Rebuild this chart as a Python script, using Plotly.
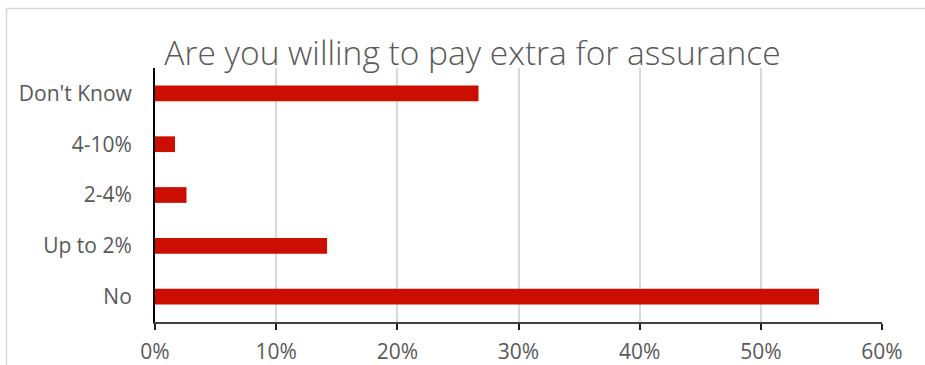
import plotly.graph_objects as go

categories = ["No", "Up to 2%", "2-4%", "4-10%", "Don't Know"]
values = [0.548, 0.142, 0.026, 0.0165, 0.267]
x_ticks = [0, 0.1, 0.2, 0.3, 0.4, 0.5, 0.6]
title_text = "Are you willing to pay extra for assurance"

W, H = 925, 365
L, R, T, B = 155, 43, 68, 43
pw, ph = W - L - R, H - T - B

def px_x(p):
    return (p - L) / pw

def px_y(p):
    return (H - B - p) / ph

fig = go.Figure(go.Bar(
    x=values, y=categories, orientation="h",
    marker=dict(color="#CC0E00", line=dict(width=0)),
    width=0.31,
))

fig.update_layout(
    width=W, height=H,
    margin=dict(l=L, r=R, t=T, b=B, pad=0, autoexpand=False),
    paper_bgcolor="white", plot_bgcolor="white",
    font=dict(family="Open Sans", color="#595959", size=21),
    showlegend=False,
    title=dict(text=title_text, x=472.5 / W, xref="container", xanchor="center",
               y=1 - 53 / H, yref="container", yanchor="middle",
               font=dict(family="Open Sans", size=33.5, color="#595959", weight=300)),
    xaxis=dict(range=[0, 0.6], tickvals=x_ticks, tickformat=".0%",
               showgrid=True, gridcolor="#D9D9D9", gridwidth=2,
               showline=True, linecolor="#404040", linewidth=2,
               ticks="outside", ticklen=6, tickwidth=2, tickcolor="#202020",
               zeroline=False, fixedrange=True, ticklabelstandoff=4,
               automargin=False),
    yaxis=dict(categoryorder="array", categoryarray=categories,
               showgrid=False, showline=True, linecolor="black", linewidth=2,
               ticks="", zeroline=False, ticklabelstandoff=17,
               automargin=False),
    shapes=[dict(type="rect", xref="paper", yref="paper",
                 x0=px_x(6.5), x1=px_x(940), y0=px_y(380), y1=px_y(8.5),
                 line=dict(color="#D9D9D9", width=1.5), layer="below")],
)

fig.write_html("out.html")
